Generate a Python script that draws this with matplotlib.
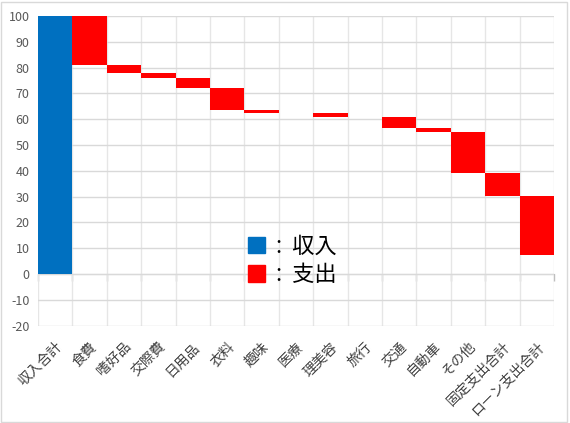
import numpy as np
import matplotlib.pyplot as plt
from matplotlib.patches import Patch, Rectangle

plt.rcParams['font.family'] = ['Noto Sans CJK JP', 'DejaVu Sans']
plt.rcParams['axes.unicode_minus'] = False

# data
categories = ['収入合計', '食費', '嗜好品', '交際費', '日用品', '衣料', '趣味', '医療',
              '理美容', '旅行', '交通', '自動車', 'その他', '固定支出合計', 'ローン支出合計']
income = 100
expenses = [19, 3, 2, 4, 8.5, 1, 0, 1.5, 0, 4.3, 1.6, 15.8, 9, 22.8]
legend_labels = [':  収入', ':  支出']

blue = '#0070C0'
red = '#FF0000'

# waterfall bottoms
remaining = income - np.cumsum(expenses)

fig = plt.figure(figsize=(5.7, 4.23), dpi=100)
ax = fig.add_axes([0.0667, 0.2303, 0.9053, 0.7319])

x = np.arange(len(categories))
ax.bar(x[0], income, width=1.0, color=blue, zorder=3)
ax.bar(x[1:], expenses, bottom=remaining, width=1.0, color=red, zorder=3)

ax.set_xlim(-0.5, len(categories) - 0.5)
ax.set_ylim(-20, 100)
ax.set_yticks(np.arange(-20, 101, 10))

# gridlines
ax.set_xticks(np.arange(-0.5, len(categories), 0.5), minor=True)
ax.grid(axis='y', which='major', color='#d9d9d9', linewidth=1, zorder=0)
ax.grid(axis='x', which='minor', color='#e6e6e6', linewidth=1, zorder=0)
ax.set_axisbelow(True)

ax.set_xticks(x)
ax.set_xticklabels(categories, rotation=45, ha='right', rotation_mode='anchor',
                   fontsize=10, color='#404040')
ax.tick_params(axis='x', which='both', length=0, pad=10)
ax.tick_params(axis='y', length=0, labelsize=9, labelcolor='#595959', pad=6)

for s in ax.spines.values():
    s.set_visible(False)

# category axis line at 0 with tick marks
sec = ax.secondary_xaxis(20 / 120)
sec.set_xticks(np.arange(-0.5, len(categories), 1.0))
sec.set_xticklabels([])
sec.tick_params(length=5, color='#bfbfbf', width=1)
sec.spines['bottom'].set_color('#bfbfbf')

# legend
handles = [Patch(color=blue), Patch(color=red)]
ax.legend(handles, legend_labels, loc='center left',
          bbox_to_anchor=(0.39, 0.21), frameon=False, fontsize=16,
          handlelength=0.75, handleheight=0.75, handletextpad=0.5,
          labelspacing=0.25, borderaxespad=0)

# chart border
fig.patches.append(Rectangle((1 / 570, 1 / 423), 566 / 570, 420 / 423,
                             transform=fig.transFigure, fill=False,
                             edgecolor='#d9d9d9', linewidth=1))

fig.savefig('out.png', dpi=100)
